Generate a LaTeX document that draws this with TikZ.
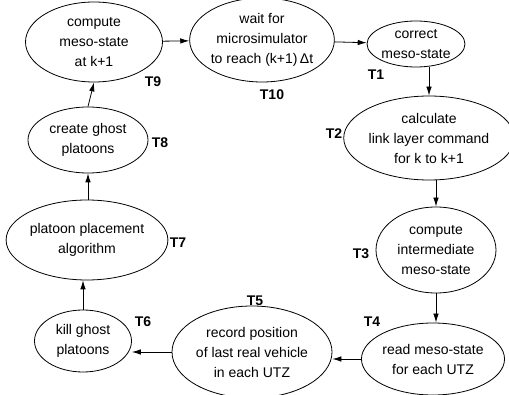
\documentclass[tikz,border=0pt]{standalone}
\usepackage{fontspec}
\setmainfont{Liberation Sans}
\usetikzlibrary{shapes.geometric,arrows.meta}
\begin{document}
\begin{tikzpicture}[x=1pt,y=-1pt,
  st/.style={draw,ellipse,inner sep=0pt,line width=0.8pt,align=center,
    font=\fontsize{14}{20}\selectfont},
  lbl/.style={font=\fontsize{14}{16}\selectfont\bfseries},
  arr/.style={line width=0.8pt,-{Latex[length=9pt,width=5.5pt]}}]
\useasboundingbox (0,0) rectangle (509,395);
\node[st,minimum width=137pt,minimum height=80pt] (t9) at (94,42) {compute\\meso-state\\at k+1};
\node[st,minimum width=140pt,minimum height=84pt] (t10) at (262,40) {wait for\\microsimulator\\to reach (k+1)\,Δt};
\node[st,minimum width=88pt,minimum height=46pt] (t1) at (416,44) {correct\\meso-state};
\node[st,minimum width=152pt,minimum height=84pt] (t2) at (429,138) {calculate\\link layer command\\for k to k+1};
\node[st,minimum width=120pt,minimum height=86pt] (t3) at (436,250) {compute\\intermediate\\meso-state};
\node[st,minimum width=130pt,minimum height=72pt] (t4) at (433,359) {read meso-state\\for each UTZ};
\node[st,minimum width=160pt,minimum height=92pt] (t5) at (252,352) {record position\\of last real vehicle\\in each UTZ};
\node[st,minimum width=97pt,minimum height=62pt] (t6) at (83,341) {kill ghost\\platoons};
\node[st,minimum width=148pt,minimum height=80pt] (t7) at (87,240) {platoon placement\\algorithm};
\node[st,minimum width=120pt,minimum height=66pt] (t8) at (88,140) {create ghost\\platoons};
\node[lbl] (l9) at (153,82) {T9};
\node[lbl] (l10) at (272,95) {T10};
\node[lbl] (l1) at (376,75) {T1};
\node[lbl] (l2) at (334,134) {T2};
\node[lbl] (l3) at (361,254) {T3};
\node[lbl] (l4) at (372,322) {T4};
\node[lbl] (l5) at (255,301) {T5};
\node[lbl] (l6) at (143,322) {T6};
\node[lbl] (l7) at (178,243) {T7};
\node[lbl] (l8) at (160,143) {T8};
\draw[arr] (t9) -- (t10);
\draw[arr] (t10) -- (t1);
\draw[arr] (t1.south -| t2.north) -- (t2.north);
\draw[arr] (t2.south -| t3.north) -- (t3.north);
\draw[arr] (t3.south) -- (t4.north -| t3.south);
\draw[arr] (t4.west) -- (t5.east |- t4.west);
\draw[arr] (t5.west) -- (t6.east |- t5.west);
\draw[arr] (t6.north) -- (t6.north |- t7.south);
\draw[arr] (t7.north -| t8.south) -- (t8.south);
\draw[arr] (t8.north) -- (t9.south);
\end{tikzpicture}
\end{document}
